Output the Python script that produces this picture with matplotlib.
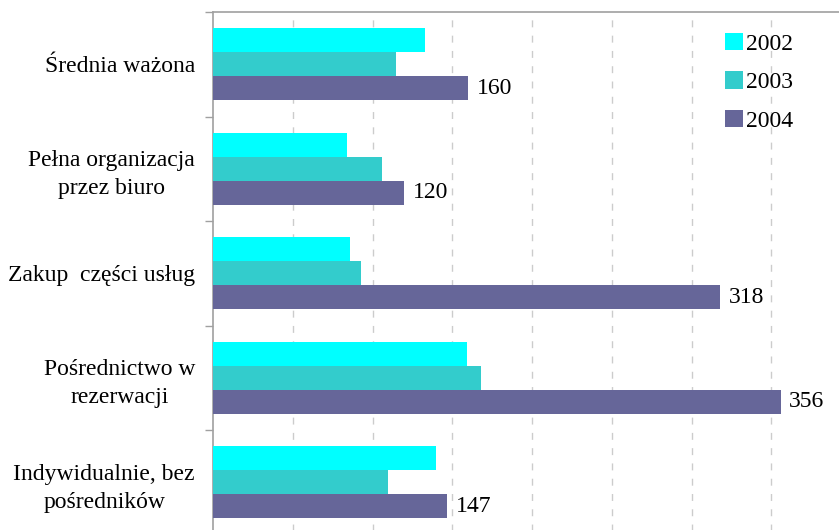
import numpy as np
import matplotlib.pyplot as plt

# data
categories = ['Średnia ważona', 'Pełna organizacja\nprzez biuro', 'Zakup  części usług',
              'Pośrednictwo w\nrezerwacji', 'Indywidualnie, bez\npośredników']
years = ['2002', '2003', '2004']
v2002 = [133, 84, 86, 159, 140]
v2003 = [115, 106, 93, 168, 110]
v2004 = [160, 120, 318, 356, 147]
colors = ['#00FFFF', '#33CCCC', '#666699']

plt.rcParams['font.family'] = ['Liberation Serif', 'DejaVu Serif']

fig = plt.figure(figsize=(8.39, 5.30), dpi=100)
ax = fig.add_axes([213/839, 1 - 534.5/530, (851 - 213)/839, (534.5 - 12)/530])

y = np.arange(len(categories))
h = 0.23
series = [v2002, v2003, v2004]
for k, (vals, c, lab) in enumerate(zip(series, colors, years)):
    ax.barh(y + (k - 1) * h, vals, height=h, color=c, label=lab, zorder=3)

for yi, v in zip(y, v2004):
    ax.annotate(str(v), (v, yi + h), xytext=(6, 0), textcoords='offset points',
                ha='left', va='center', fontsize=17)

ax.set_xlim(0, 400)
ax.set_ylim(len(categories) - 0.5, -0.5)

ax.set_xticks(np.arange(50, 400, 50))
ax.tick_params(axis='x', length=0, labelbottom=False)
ax.grid(axis='x', color='#CCCCCC', linestyle=(0, (5, 6)), linewidth=1.0, zorder=0)

ax.set_yticks(np.arange(-0.5, len(categories), 1))
ax.set_yticklabels([])
ax.tick_params(axis='y', which='major', length=6, color='#A0A0A0', width=1)
ax.set_yticks(y, minor=True)
ax.set_yticklabels(categories, minor=True, fontsize=17, multialignment='center',
                   linespacing=1.45)
ax.tick_params(axis='y', which='minor', length=0, pad=13)

for s in ['right', 'bottom']:
    ax.spines[s].set_visible(False)
for s in ['left', 'top']:
    ax.spines[s].set_color('#A0A0A0')
    ax.spines[s].set_linewidth(1.2)

ax.legend(frameon=False, fontsize=17, loc='upper left',
          bbox_to_anchor=(713/839, 1 - 21/530), bbox_transform=fig.transFigure,
          handlelength=0.75, handleheight=0.75, handletextpad=0.15,
          labelspacing=0.7, borderpad=0)

fig.savefig('out.png', dpi=100)
